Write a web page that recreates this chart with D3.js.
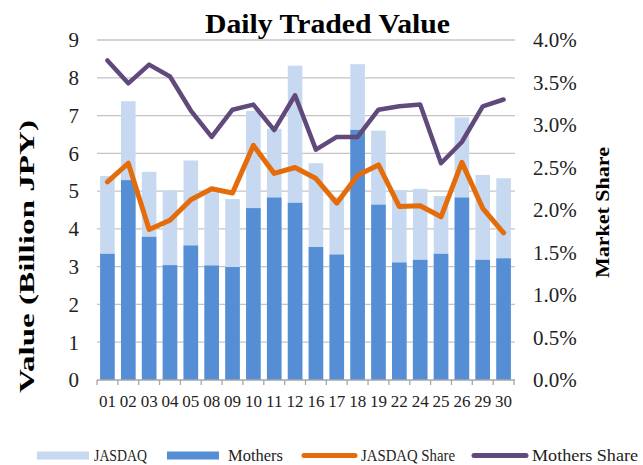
<!DOCTYPE html>
<html>
<head>
<meta charset="utf-8">
<script src="https://cdn.jsdelivr.net/npm/d3@7"></script>
<style>
  body { margin: 0; background: #fff; }
  svg { display: block; font-family: "Liberation Serif", "DejaVu Serif", serif; }
</style>
</head>
<body>
<div id="chart"></div>
<script>
const days = ["01","02","03","04","05","08","09","10","11","12","16","17","18","19","22","24","25","26","29","30"];
const jasdaq = [5.40,7.38,5.51,5.02,5.81,4.97,4.79,7.12,6.65,8.32,5.74,4.85,8.36,6.60,5.03,5.06,4.87,6.95,5.43,5.34];
const mothers = [3.34,5.29,3.79,3.04,3.56,3.03,2.99,4.55,4.83,4.69,3.52,3.32,6.62,4.64,3.11,3.18,3.34,4.83,3.18,3.22];
const jasdaqShare = [2.33,2.55,1.77,1.88,2.12,2.25,2.20,2.76,2.43,2.50,2.37,2.08,2.41,2.53,2.04,2.05,1.92,2.56,2.02,1.73];
const mothersShare = [3.76,3.49,3.71,3.57,3.17,2.86,3.18,3.24,2.94,3.35,2.71,2.86,2.86,3.18,3.22,3.24,2.55,2.80,3.22,3.30];
const leftTicks = [0,1,2,3,4,5,6,7,8,9];
const rightTicks = [0,0.005,0.01,0.015,0.02,0.025,0.03,0.035,0.04];

document.addEventListener("DOMContentLoaded", function(e) {
  const W = 643, H = 465;
  const left = 97, right = 514, top = 40, bottom = 380;

  const svg = d3.select('#chart').append('svg')
    .attr('width', W).attr('height', H);

  const x = d3.scaleBand().domain(days).range([left, right])
    .paddingInner(0.3).paddingOuter(0.15);
  const y = d3.scaleLinear().domain([0, 9]).range([bottom, top]);
  const y2 = d3.scaleLinear().domain([0, 0.04]).range([bottom, top]);

  // gridlines
  svg.append('g').selectAll('line')
    .data(leftTicks.slice(1))
    .enter().append('line')
      .attr('x1', left).attr('x2', right + 1)
      .attr('y1', d => y(d)).attr('y2', d => y(d))
      .attr('stroke', '#c4c4c4').attr('stroke-width', 1.3);

  // left axis labels
  svg.append('g').selectAll('text')
    .data(leftTicks)
    .enter().append('text')
      .attr('x', 79).attr('y', d => y(d))
      .attr('dy', '0.35em')
      .attr('text-anchor', 'end')
      .attr('font-size', 21)
      .attr('fill', '#222')
      .text(d => d);

  // right axis labels
  svg.append('g').selectAll('text')
    .data(rightTicks)
    .enter().append('text')
      .attr('x', 533).attr('y', d => y2(d))
      .attr('dy', '0.35em')
      .attr('font-size', 21)
      .attr('fill', '#222')
      .text(d => d3.format('.1%')(d));

  const rows = days.map((d, i) => ({
    day: d, j: jasdaq[i], m: mothers[i], js: jasdaqShare[i] / 100, ms: mothersShare[i] / 100
  }));

  // bars, JASDAQ behind, Mothers in front
  svg.append('g').selectAll('rect')
    .data(rows)
    .enter().append('rect')
      .attr('x', d => x(d.day))
      .attr('width', x.bandwidth())
      .attr('y', d => y(d.j))
      .attr('height', d => bottom - y(d.j))
      .attr('fill', '#c6d9f1');

  svg.append('g').selectAll('rect')
    .data(rows)
    .enter().append('rect')
      .attr('x', d => x(d.day))
      .attr('width', x.bandwidth())
      .attr('y', d => y(d.m))
      .attr('height', d => bottom - y(d.m))
      .attr('fill', '#558ed5');

  // x axis
  const xAxis = svg.append('g');
  xAxis.append('line')
    .attr('x1', left).attr('x2', right + 1)
    .attr('y1', bottom).attr('y2', bottom)
    .attr('stroke', '#a6a6a6').attr('stroke-width', 1.3);
  const bounds = days.map(d => x(d) - x.step() * x.paddingInner() / 2).concat([right]);
  bounds[0] = left;
  xAxis.selectAll('line.tick')
    .data(bounds)
    .enter().append('line')
      .attr('class', 'tick')
      .attr('x1', d => d).attr('x2', d => d)
      .attr('y1', bottom).attr('y2', bottom + 5)
      .attr('stroke', '#a6a6a6').attr('stroke-width', 1.3);
  xAxis.selectAll('text')
    .data(days)
    .enter().append('text')
      .attr('x', d => x(d) + x.bandwidth() / 2)
      .attr('y', 407)
      .attr('text-anchor', 'middle')
      .attr('font-size', 17)
      .attr('fill', '#222')
      .text(d => d);

  // share lines
  const cx = d => x(d.day) + x.bandwidth() / 2;
  svg.append('path')
    .datum(rows)
    .attr('fill', 'none')
    .attr('stroke', '#e46c0a')
    .attr('stroke-width', 5)
    .attr('stroke-linejoin', 'round')
    .attr('stroke-linecap', 'round')
    .attr('d', d3.line().x(cx).y(d => y2(d.js)));

  svg.append('path')
    .datum(rows)
    .attr('fill', 'none')
    .attr('stroke', '#604a7b')
    .attr('stroke-width', 4.5)
    .attr('stroke-linejoin', 'round')
    .attr('stroke-linecap', 'round')
    .attr('d', d3.line().x(cx).y(d => y2(d.ms)));

  // title
  svg.append('text')
    .attr('x', 205).attr('y', 33)
    .attr('font-size', 27).attr('font-weight', 'bold')
    .attr('textLength', 245).attr('lengthAdjust', 'spacingAndGlyphs')
    .attr('fill', '#000')
    .text('Daily Traded Value');

  // axis titles
  svg.append('text')
    .attr('transform', 'translate(34,393) rotate(-90)')
    .attr('font-size', 22).attr('font-weight', 'bold')
    .attr('textLength', 273).attr('lengthAdjust', 'spacingAndGlyphs')
    .attr('fill', '#000')
    .text('Value (Billion JPY)');

  svg.append('text')
    .attr('transform', 'translate(609,278) rotate(-90)')
    .attr('font-size', 19).attr('font-weight', 'bold')
    .attr('textLength', 131).attr('lengthAdjust', 'spacingAndGlyphs')
    .attr('fill', '#000')
    .text('Market Share');

  // legend
  const legend = [
    { name: 'JASDAQ', kind: 'rect', color: '#c6d9f1', x0: 37, x1: 89, tx: 94, tl: 53 },
    { name: 'Mothers', kind: 'rect', color: '#558ed5', x0: 167, x1: 219, tx: 228, tl: 55 },
    { name: 'JASDAQ Share', kind: 'line', color: '#e46c0a', x0: 304, x1: 355, tx: 361, tl: 94 },
    { name: 'Mothers Share', kind: 'line', color: '#604a7b', x0: 474, x1: 526, tx: 532, tl: 106 }
  ];
  const lg = svg.append('g');
  legend.forEach(item => {
    if (item.kind === 'rect') {
      lg.append('rect')
        .attr('x', item.x0).attr('y', 451.5)
        .attr('width', item.x1 - item.x0).attr('height', 8)
        .attr('fill', item.color);
    } else {
      lg.append('line')
        .attr('x1', item.x0).attr('x2', item.x1)
        .attr('y1', 455.5).attr('y2', 455.5)
        .attr('stroke', item.color).attr('stroke-width', 5)
        .attr('stroke-linecap', 'round');
    }
    lg.append('text')
      .attr('x', item.tx).attr('y', 461)
      .attr('font-size', 17)
      .attr('textLength', item.tl).attr('lengthAdjust', 'spacingAndGlyphs')
      .attr('fill', '#222')
      .text(item.name);
  });
});
</script>
</body>
</html>
